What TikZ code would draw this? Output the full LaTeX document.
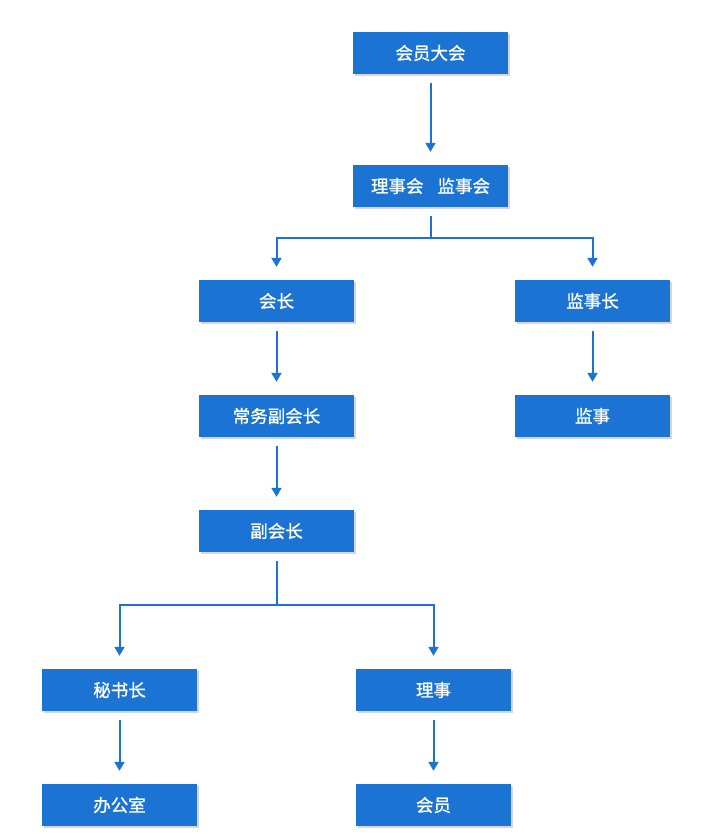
\documentclass[tikz,border=0pt]{standalone}
\usepackage{fontspec}
\setmainfont{Noto Sans CJK SC}[FakeBold=1.1]
\usetikzlibrary{arrows.meta,shadows}
\definecolor{boxblue}{RGB}{27,115,211}
\definecolor{lineblue}{RGB}{27,115,211}
\definecolor{shadowgray}{RGB}{214,214,214}
\tikzset{
  orgbox/.style={rectangle, fill=boxblue, text=white, minimum width=155pt, minimum height=42pt, inner sep=0pt,
    font=\fontsize{17.5}{20}\selectfont,
    general shadow={fill=shadowgray, shadow xshift=2pt, shadow yshift=-2pt}},
  conn/.style={draw=lineblue, line width=2pt, -{Triangle[width=10pt,length=9pt]}, shorten <=9pt, shorten >=13pt},
  plain/.style={draw=lineblue, line width=2pt},
}
\begin{document}
\begin{tikzpicture}[x=1pt,y=-1pt]
\useasboundingbox[fill=white] (0,0) rectangle (715,834);
\node[orgbox] (hydh) at (430.5,53) {会员大会};
\node[orgbox] (lsh) at (430.5,186) {理事会\hspace{0.8em}监事会};
\node[orgbox] (hz) at (276.5,301) {会长};
\node[orgbox] (jsz) at (592.5,301) {监事长};
\node[orgbox] (cwfhz) at (276.5,416) {常务副会长};
\node[orgbox] (js) at (592.5,416) {监事};
\node[orgbox] (fhz) at (276.5,531) {副会长};
\node[orgbox] (msz) at (119.5,690) {秘书长};
\node[orgbox] (ls) at (433.5,690) {理事};
\node[orgbox] (bgs) at (119.5,805) {办公室};
\node[orgbox] (hy) at (433.5,805) {会员};

\draw[conn] (hydh) -- (lsh);
\coordinate (j1) at (430.5,238);
\draw[plain, shorten <=9pt] (lsh.south) -- (j1);
\draw[conn, shorten <=0pt] (j1) -| (hz.north);
\draw[conn, shorten <=0pt] (j1) -| (jsz.north);
\draw[conn] (hz) -- (cwfhz);
\draw[conn] (jsz) -- (js);
\draw[conn] (cwfhz) -- (fhz);
\coordinate (j2) at (276.5,605);
\draw[plain, shorten <=9pt] (fhz.south) -- (j2);
\draw[conn, shorten <=0pt] (j2) -| (msz.north);
\draw[conn, shorten <=0pt] (j2) -| (ls.north);
\draw[conn] (msz) -- (bgs);
\draw[conn] (ls) -- (hy);
\end{tikzpicture}
\end{document}
